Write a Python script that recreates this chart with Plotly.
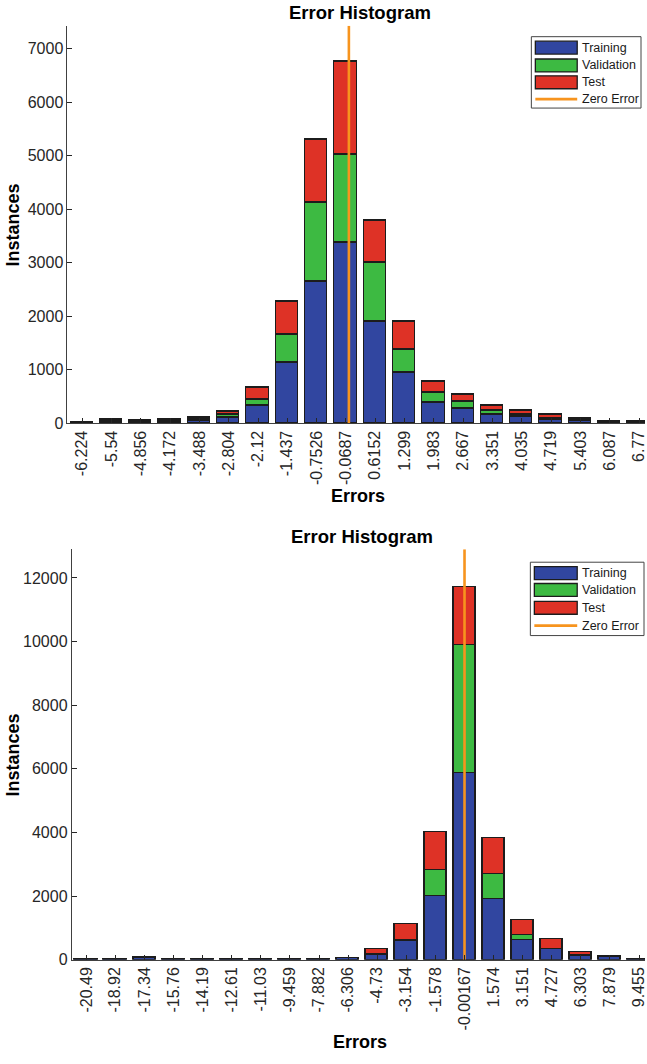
import plotly.graph_objects as go

# ---- data: bin centres (as printed) and instance counts per data split ----
series_names = ["Training", "Validation", "Test"]
series_colors = ["#3146A0", "#3DBA42", "#DE3226"]
zero_color = "#F7941E"

top_labels = ["-6.224", "-5.54", "-4.856", "-4.172", "-3.488", "-2.804", "-2.12",
              "-1.437", "-0.7526", "-0.0687", "0.6152", "1.299", "1.983", "2.667",
              "3.351", "4.035", "4.719", "5.403", "6.087", "6.77"]
top_train = [6, 35, 25, 35, 55, 110, 325, 1140, 2650, 3380, 1905, 940, 388, 267,
             152, 115, 74, 45, 15, 15]
top_valid = [1, 10, 5, 10, 15, 45, 125, 510, 1477, 1637, 1100, 439, 175, 138,
             88, 42, 15, 10, 3, 3]
top_test = [2, 25, 10, 15, 40, 65, 210, 625, 1181, 1736, 789, 511, 210, 122,
            80, 88, 66, 25, 5, 5]

bot_labels = ["-20.49", "-18.92", "-17.34", "-15.76", "-14.19", "-12.61", "-11.03",
              "-9.459", "-7.882", "-6.306", "-4.73", "-3.154", "-1.578", "-0.00167",
              "1.574", "3.151", "4.727", "6.303", "7.879", "9.455"]
bot_train = [12, 12, 50, 12, 12, 6, 6, 10, 12, 40, 150, 575, 1990, 5850, 1910,
             625, 315, 125, 65, 15]
bot_valid = [1, 1, 5, 1, 1, 1, 1, 1, 1, 5, 25, 45, 830, 4020, 770, 130, 15, 15,
             10, 2]
bot_test = [2, 2, 15, 2, 2, 1, 1, 1, 2, 10, 140, 505, 1180, 1830, 1135, 500, 305,
            110, 25, 5]

top_ymax, top_ytick = 7430, 1000
bot_ymax, bot_ytick = 12900, 2000

# ---- page geometry (pixels) ----
W, H = 647, 1064
FONT = "Liberation Sans, Arial, Helvetica, sans-serif"
TICK_COLOR = "#262626"


def px(x):
    return x / W


def py(y):
    return 1 - y / H


fig = go.Figure()


def add_hist(labels, counts_list, xa, ya, ymax, ytick, left_px, top_px, bottom_px, bins_visible):
    centers = [float(s) for s in labels]
    step = (centers[-1] - centers[0]) / (len(centers) - 1)
    for name, color, counts in zip(series_names, series_colors, counts_list):
        fig.add_trace(go.Bar(
            x=centers, y=counts, name=name, width=0.76 * step,
            marker=dict(color=color, line=dict(color="#1c1c1c", width=1.3)),
            xaxis=xa, yaxis=ya, showlegend=False,
        ))
    fig.add_trace(go.Scatter(
        x=[0, 0], y=[0, ymax], mode="lines", name="Zero Error",
        line=dict(color=zero_color, width=2.6), xaxis=xa, yaxis=ya,
        showlegend=False, hoverinfo="skip",
    ))
    xrange = [centers[0] - step / 2, centers[0] - step / 2 + bins_visible * step]
    axis_x = dict(
        domain=[px(left_px), 1], range=xrange, tickmode="array",
        tickvals=centers, ticktext=labels, tickangle=-90,
        ticks="inside", ticklen=5, tickcolor=TICK_COLOR, tickwidth=1,
        showline=True, linecolor="#404040", linewidth=1,
        showgrid=False, zeroline=False, ticklabeloverflow="allow",
        tickfont=dict(family=FONT, size=16, color=TICK_COLOR),
        anchor=ya,
    )
    axis_y = dict(
        domain=[py(bottom_px), py(top_px)], range=[0, ymax],
        tick0=0, dtick=ytick, tickformat="d",
        ticks="inside", ticklen=5, tickcolor=TICK_COLOR, tickwidth=1,
        showline=True, linecolor="#404040", linewidth=1,
        showgrid=False, zeroline=False,
        tickfont=dict(family=FONT, size=16, color=TICK_COLOR),
        anchor=xa,
    )
    return axis_x, axis_y


tx, ty = add_hist(top_labels, [top_train, top_valid, top_test], "x", "y",
                  top_ymax, top_ytick, 67.7, 26, 427, (647 - 67.7) / 29.4)
bx, by = add_hist(bot_labels, [bot_train, bot_valid, bot_test], "x2", "y2",
                  bot_ymax, bot_ytick, 72, 554, 968, (647 - 72) / 29.18)

annotations = []
shapes = []


def text(x, y, s, size, bold=True, angle=0, xanchor="center", color="#000000"):
    annotations.append(dict(
        x=px(x), y=py(y), xref="paper", yref="paper", text=f"<b>{s}</b>" if bold else s,
        showarrow=False, textangle=angle, xanchor=xanchor, yanchor="middle",
        font=dict(family=FONT, size=size, color=color),
    ))


def legend(x0, x1, y0, y1, rows_y, sw_x0, sw_x1):
    shapes.append(dict(type="rect", xref="paper", yref="paper",
                       x0=px(x0), x1=px(x1), y0=py(y1), y1=py(y0),
                       line=dict(color="#444444", width=1), fillcolor="white"))
    for name, color, ry in zip(series_names, series_colors, rows_y):
        shapes.append(dict(type="rect", xref="paper", yref="paper",
                           x0=px(sw_x0), x1=px(sw_x1), y0=py(ry + 6.5), y1=py(ry - 6.5),
                           line=dict(color="#1c1c1c", width=1.3), fillcolor=color))
        text(sw_x1 + 3, ry, name, 12.5, bold=False, xanchor="left", color="#1a1a1a")
    ry = rows_y[3]
    shapes.append(dict(type="line", xref="paper", yref="paper",
                       x0=px(sw_x0), x1=px(sw_x1), y0=py(ry), y1=py(ry),
                       line=dict(color=zero_color, width=2.6)))
    text(sw_x1 + 3, ry, "Zero Error", 12.5, bold=False, xanchor="left", color="#1a1a1a")


# titles and axis labels
text(361.5, 13, "Error Histogram", 18.5)
text(13, 226.5, "Instances", 18, angle=-90)
text(359, 500, "Errors", 18)

text(363.5, 541, "Error Histogram", 18.5)
text(13, 761, "Instances", 18, angle=-90)
text(361.5, 1051, "Errors", 18)

legend(533, 643, 37, 109, [48, 66, 83, 100], 537, 579)
legend(532, 646, 567, 641, [578, 595, 613, 631], 536, 579)

fig.update_layout(
    width=W, height=H, margin=dict(l=0, r=0, t=0, b=0),
    barmode="stack", bargap=0, showlegend=False,
    paper_bgcolor="white", plot_bgcolor="white",
    xaxis=tx, yaxis=ty, xaxis2=bx, yaxis2=by,
    annotations=annotations, shapes=shapes,
)

fig.write_html("out.html")
